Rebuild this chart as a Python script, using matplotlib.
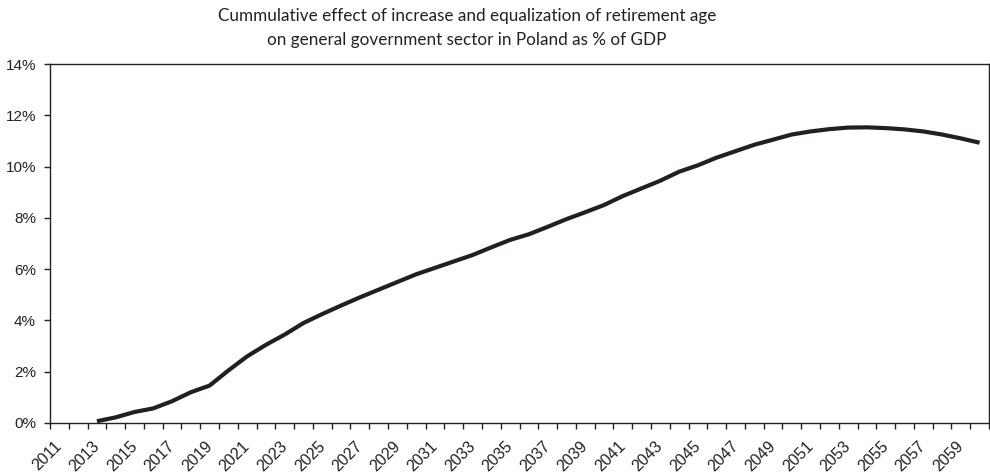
import matplotlib
matplotlib.use("Agg")
import matplotlib.pyplot as plt
import matplotlib.transforms as mtransforms
import numpy as np

years = list(range(2011, 2061))
data_years = list(range(2013, 2061))
values = [0.07, 0.22, 0.43, 0.57, 0.85, 1.2, 1.46, 2.05, 2.6, 3.05,
          3.45, 3.9, 4.25, 4.58, 4.9, 5.2, 5.5, 5.8, 6.05, 6.3,
          6.55, 6.85, 7.14, 7.36, 7.65, 7.95, 8.22, 8.5, 8.85, 9.15,
          9.45, 9.8, 10.05, 10.35, 10.6, 10.85, 11.05, 11.25, 11.37, 11.46,
          11.52, 11.53, 11.5, 11.45, 11.37, 11.25, 11.1, 10.93]
label_years = [str(y) for y in years[::2]]
yticks = [0, 2, 4, 6, 8, 10, 12, 14]
title = "Cummulative effect of increase and equalization of retirement age\non general government sector in Poland as % of GDP"

plt.rcParams['font.family'] = ['Liberation Sans', 'DejaVu Sans']

fig = plt.figure(figsize=(9.9, 4.75), dpi=100)
ax = fig.add_axes([50/990, 1-423/475, 939/990, (423-64)/475])

xpos = [years.index(y) for y in data_years]
ax.plot(xpos, values, color='#231f20', lw=3, solid_capstyle='butt')

ax.set_xlim(-0.5, len(years) - 0.5)
ax.set_ylim(0, 14)
ax.set_yticks(yticks)
ax.set_yticklabels([f"{v}%" for v in yticks], fontsize=11, color='#222222',
                   family=['Liberation Sans', 'DejaVu Sans'])
ax.tick_params(axis='y', direction='out', length=4, width=1, pad=6, colors='#222222')

ax.set_xticks(np.arange(-0.5, len(years), 1.0))
ax.set_xticklabels([])
ax.tick_params(axis='x', which='major', direction='out', length=4, width=1, colors='#222222')
ax.set_xticks(np.arange(0, len(years), 2), minor=True)
ax.set_xticklabels(label_years, minor=True, rotation=45, ha='right', va='top',
                   rotation_mode='anchor', fontsize=11.5, color='#222222',
                   family=['Liberation Sans', 'DejaVu Sans'])
ax.tick_params(axis='x', which='minor', length=0, pad=11)
offset = mtransforms.ScaledTranslation(-5/100, 0, fig.dpi_scale_trans)
for lab in ax.xaxis.get_minorticklabels():
    lab.set_transform(lab.get_transform() + offset)

for s in ax.spines.values():
    s.set_color('#222222')
    s.set_linewidth(1)

fig.text(467/990, 1-28/475, title, ha='center', va='center', fontsize=12.3,
         family=['Lato', 'DejaVu Sans'], color='#222222', linespacing=1.6)

fig.savefig("out.png", dpi=100)
